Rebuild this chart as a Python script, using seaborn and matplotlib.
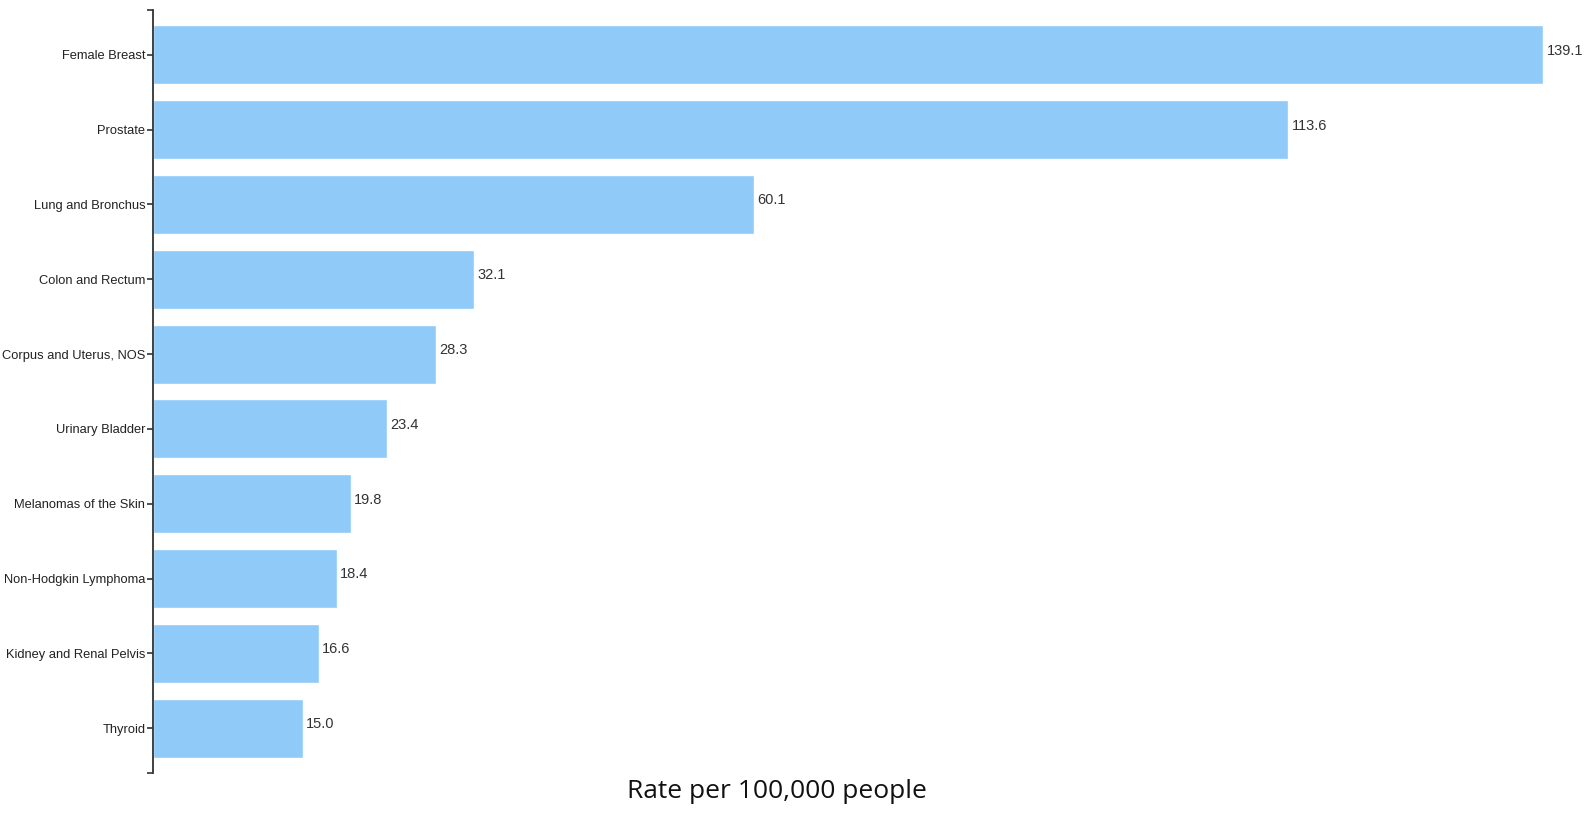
import matplotlib
matplotlib.use("Agg")
import matplotlib.pyplot as plt
import seaborn as sns
import pandas as pd

sites = ["Female Breast", "Prostate", "Lung and Bronchus", "Colon and Rectum",
         "Corpus and Uterus, NOS", "Urinary Bladder", "Melanomas of the Skin",
         "Non-Hodgkin Lymphoma", "Kidney and Renal Pelvis", "Thyroid"]
rates = [139.1, 113.6, 60.1, 32.1, 28.3, 23.4, 19.8, 18.4, 16.6, 15.0]
x_label = "Rate per 100,000 people"

df = pd.DataFrame({"site": sites, "rate": rates})

sns.set_theme(style="white")
plt.rcParams["font.family"] = ["Liberation Sans", "DejaVu Sans"]

W, H = 1586, 816
fig = plt.figure(figsize=(W / 100, H / 100), dpi=100)
ax = fig.add_axes([153 / W, 1 - 773 / H, 1 - 153 / W, (773 - 10) / H])

sns.barplot(data=df, x="rate", y="site", orient="h", color="#90CAF9",
            saturation=1, width=0.79, ax=ax)

ax.set_xlim(0, 143.4)
ylo, yhi = -0.6, 9.6
ax.set_ylim(yhi, ylo)

for y, v in enumerate(rates):
    ax.annotate(f"{v:.1f}", xy=(v, y), xytext=(2.5, 3), textcoords="offset points",
                ha="left", va="center", fontsize=10.5, color="#333333")

for s in ("top", "right", "bottom"):
    ax.spines[s].set_visible(False)
ax.spines["left"].set_color("#333333")
ax.spines["left"].set_linewidth(1.3)
ax.set_xticks([])
ax.set_xlabel("")
ax.set_ylabel("")
ax.set_yticks([ylo, yhi], minor=True)
ax.tick_params(axis="y", which="both", left=True, length=4.5, width=1.2,
               color="#333333", pad=1, labelsize=9.3, labelcolor="#222222")

fig.text(777 / W, 1 - 791 / H, x_label, ha="center", va="center",
         fontsize=19, family=["Open Sans", "DejaVu Sans"], color="#111111")

fig.savefig("out.png", dpi=100, facecolor="white")
